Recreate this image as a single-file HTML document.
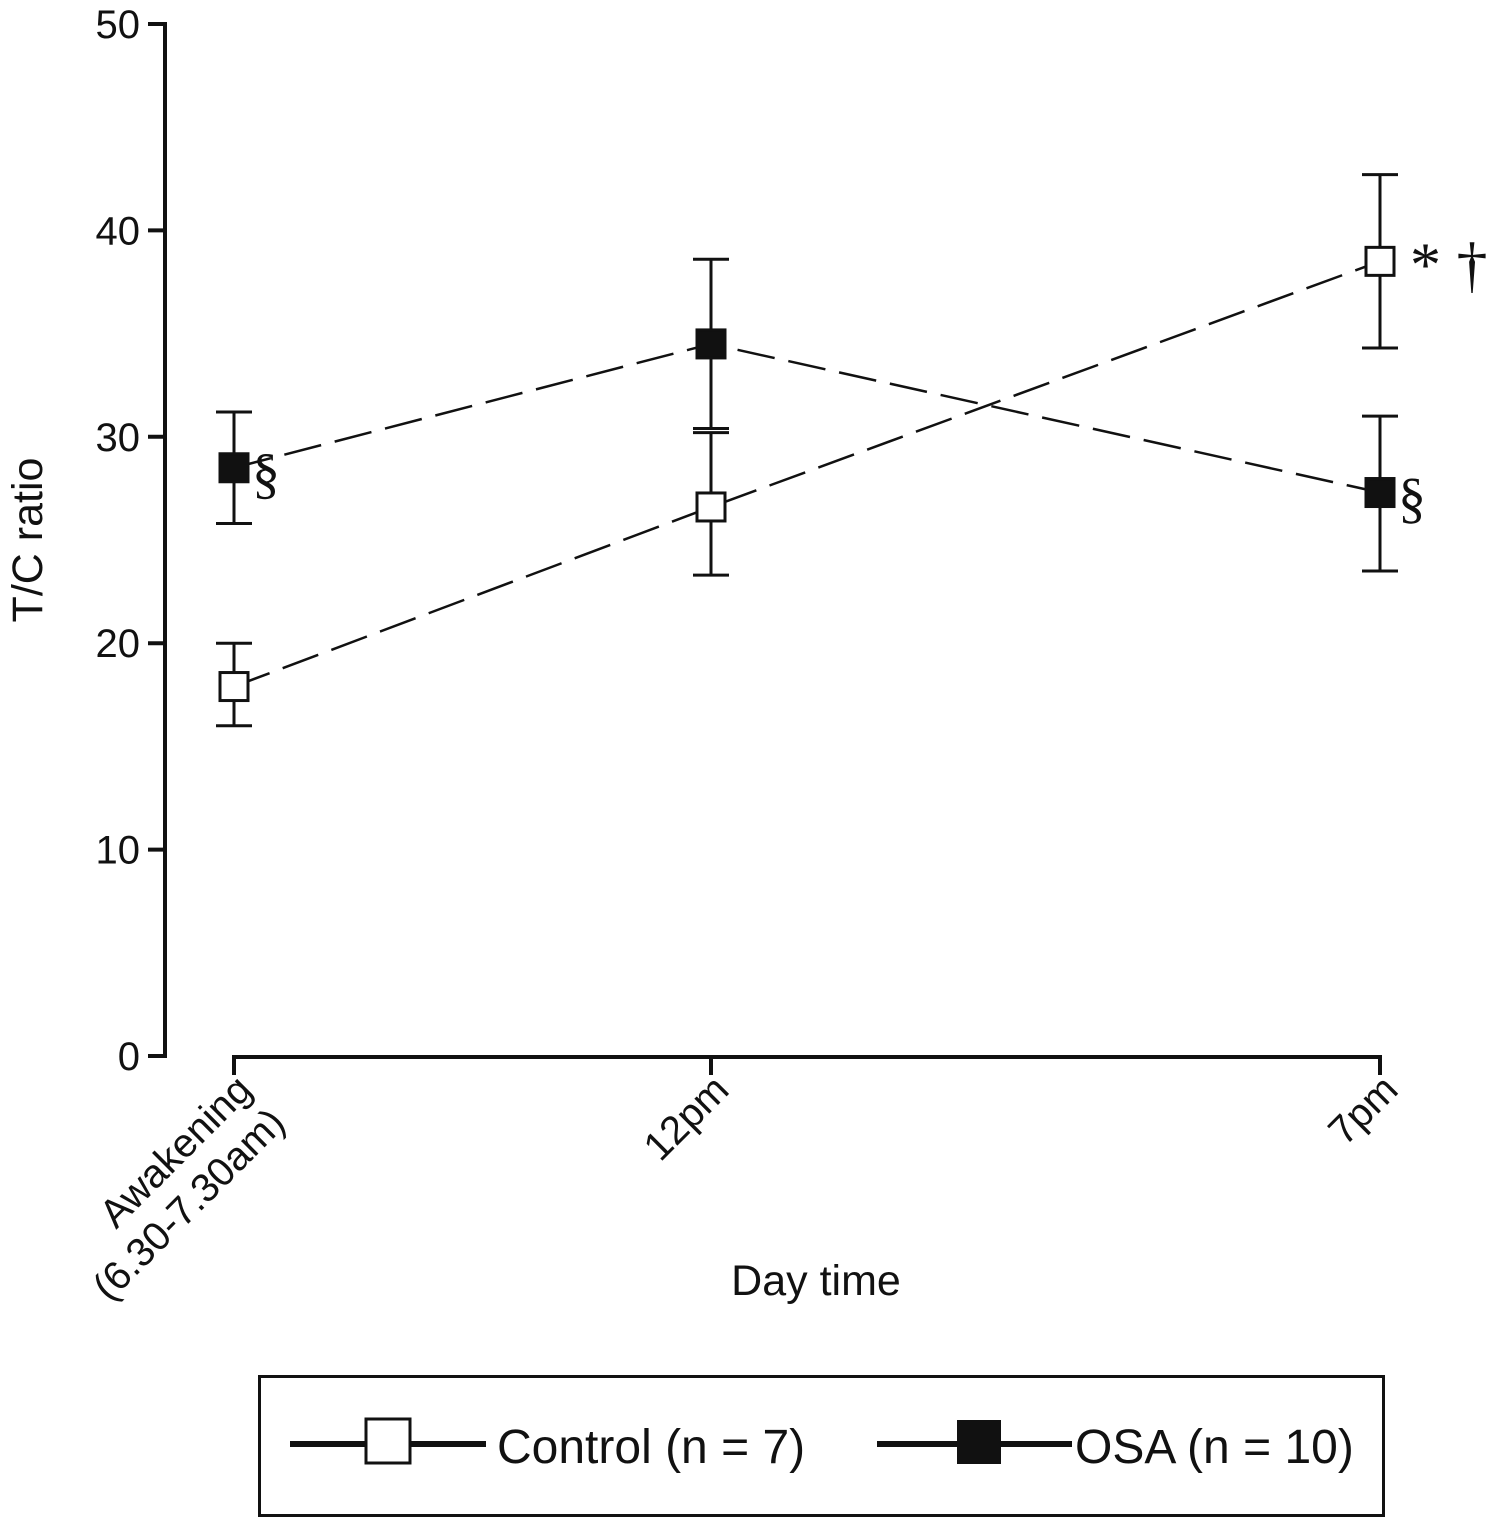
<!DOCTYPE html>
<html><head><meta charset="utf-8"><style>
html,body{margin:0;padding:0;background:#fff;}
svg{display:block;font-family:"Liberation Sans",sans-serif;}
</style></head><body>
<svg id="chart" width="1487" height="1519" viewBox="0 0 1487 1519">
<g id="axes"></g><g id="series"></g>
<text x="816" y="1295" font-size="43" text-anchor="middle" fill="#111">Day time</text>
<text transform="translate(42,540) rotate(-90)" font-size="43" text-anchor="middle" fill="#111">T/C ratio</text>
<g>
<rect x="259.5" y="1376.5" width="1124" height="139" fill="none" stroke="#111" stroke-width="3"/>
<g>
<line x1="290" y1="1444" x2="486" y2="1444" stroke="#111" stroke-width="6"/>
<rect x="366" y="1419" width="44" height="44" fill="#fff" stroke="#111" stroke-width="3"/>
<text x="497" y="1463" font-size="48" fill="#111">Control (n = 7)</text>
</g>
<g>
<line x1="877" y1="1444" x2="1072" y2="1444" stroke="#111" stroke-width="6"/>
<rect x="957" y="1420" width="44" height="44" fill="#111"/>
<text x="1075" y="1463" font-size="48" fill="#111">OSA (n = 10)</text>
</g>
</g>
</svg>
<script>
const categories = ["Awakening|(6.30-7.30am)", "12pm", "7pm"];
const yTicks = [0, 10, 20, 30, 40, 50];
const controlMean = [17.9, 26.6, 38.5];
const controlLow = [16.0, 23.3, 34.3];
const controlHigh = [20.0, 30.2, 42.7];
const osaMean = [28.5, 34.5, 27.3];
const osaLow = [25.8, 30.4, 23.5];
const osaHigh = [31.2, 38.6, 31.0];
const controlNotes = ["", "", "* \u2020"];
const osaNotes = ["\u00a7", "", "\u00a7"];

const NS = "http://www.w3.org/2000/svg";
const xPos = [234, 711, 1380];
function xScale(i){ return xPos[i]; }
function yScale(v){ return 1056 - v * 20.64; }
function mk(tag, attrs, parent){ const e=document.createElementNS(NS,tag); for(const k in attrs) e.setAttribute(k, attrs[k]); parent.appendChild(e); return e; }
const axes = document.getElementById('axes');
const series = document.getElementById('series');

const yAxis = mk('line',{x1:165,y1:yScale(50)-2,x2:165,y2:yScale(0)+1.5,stroke:'#111','stroke-width':4},axes);


yTicks.forEach(t=>{
  const l = mk('line',{x1:148,y1:yScale(t),x2:167,y2:yScale(t),stroke:'#111','stroke-width':4},axes);
  
  
  const tx = mk('text',{x:140,y:yScale(t)+14,'font-size':40,'text-anchor':'end',fill:'#111'},axes);
  tx.textContent = t;
  
  
});
const xAxis = mk('line',{x1:xScale(0)-2,y1:1057,x2:xScale(2)+2,y2:1057,stroke:'#111','stroke-width':4},axes);


categories.forEach((c,i)=>{
  const x = xScale(i);
  const l = mk('line',{x1:x,y1:1055,x2:x,y2:1075,stroke:'#111','stroke-width':4},axes);
  
  
  const parts = c.split('|');
  parts.forEach((p,j)=>{
    const tx = mk('text',{transform:`translate(${x+20+j*33},${1092+j*33}) rotate(-45)`,'font-size':40,'text-anchor':'end',fill:'#111'},axes);
    tx.textContent = p;
    
    
  });
});

function drawSeries(name, mean, low, high, notes, filled){
  const pts = mean.map((v,i)=>xScale(i)+','+yScale(v)).join(' ');
  const pl = mk('polyline',{points:pts,fill:'none',stroke:'#111','stroke-width':2.5,'stroke-dasharray':'38 14'},series);
  
  
  mean.forEach((v,i)=>{
    const x=xScale(i);
    const eb = mk('path',{d:`M${x},${yScale(low[i])}V${yScale(high[i])}M${x-18},${yScale(low[i])}H${x+18}M${x-18},${yScale(high[i])}H${x+18}`,stroke:'#111','stroke-width':3,fill:'none'},series);
    
    
    const r = mk('rect',{x:x-14,y:yScale(v)-14,width:28,height:28,fill:filled?'#111':'#fff',stroke:'#111','stroke-width':3},series);
    
    
    if(notes[i]){
      const sec = notes[i]==='\u00a7';
      const tx = mk('text',{x:x+(sec?18:30),y:yScale(v)+24,'font-size':sec?56:62,'font-family':'Liberation Serif, serif',fill:'#111'},series);
      tx.textContent = notes[i];
      
      
    }
  });
}
drawSeries('control', controlMean, controlLow, controlHigh, controlNotes, false);
drawSeries('osa', osaMean, osaLow, osaHigh, osaNotes, true);
</script>
</body></html>
